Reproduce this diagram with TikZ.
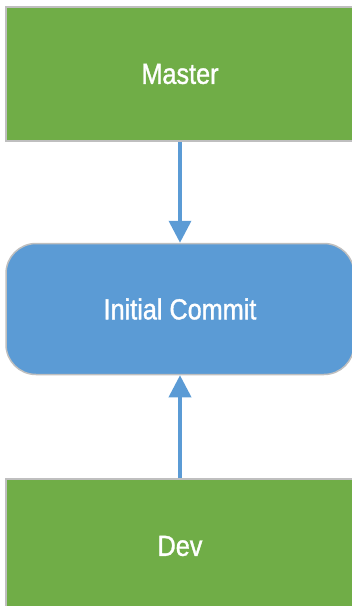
\documentclass[tikz,border=0pt]{standalone}
\usepackage{fontspec}
\setmainfont{Liberation Sans}[FakeStretch=0.87, FakeBold=1.2]
\usetikzlibrary{positioning,arrows.meta}
\definecolor{branchgreen}{HTML}{70AD47}
\definecolor{commitblue}{HTML}{5B9BD5}
\definecolor{edgegrey}{HTML}{BFBFBF}

\begin{document}
\begin{tikzpicture}[
    every node/.style={font=\fontsize{29}{34}\selectfont, text=white, align=center},
    branch/.style={
      draw=edgegrey, line width=1.5pt, fill=branchgreen,
      minimum width=348pt, minimum height=134pt, inner sep=0pt
    },
    commit/.style={
      draw=edgegrey, line width=1.5pt, fill=commitblue, rounded corners=30pt,
      minimum width=348pt, minimum height=131pt, inner sep=0pt
    },
    ref/.style={-{Triangle[length=22pt, width=22pt]}, line width=3.6pt, commitblue}
  ]

  \useasboundingbox (0pt,0pt) rectangle (352pt,-606pt);

  \node[branch] (master) at (180pt,-74pt) {Master};
  \node[commit, below=101pt of master] (init) {Initial Commit};
  \node[branch, below=103pt of init] (dev) {Dev};

  % both branches point at the same first commit
  \draw[ref] (master) -- (init);
  \draw[ref] (dev) -- (init);

\end{tikzpicture}
\end{document}
